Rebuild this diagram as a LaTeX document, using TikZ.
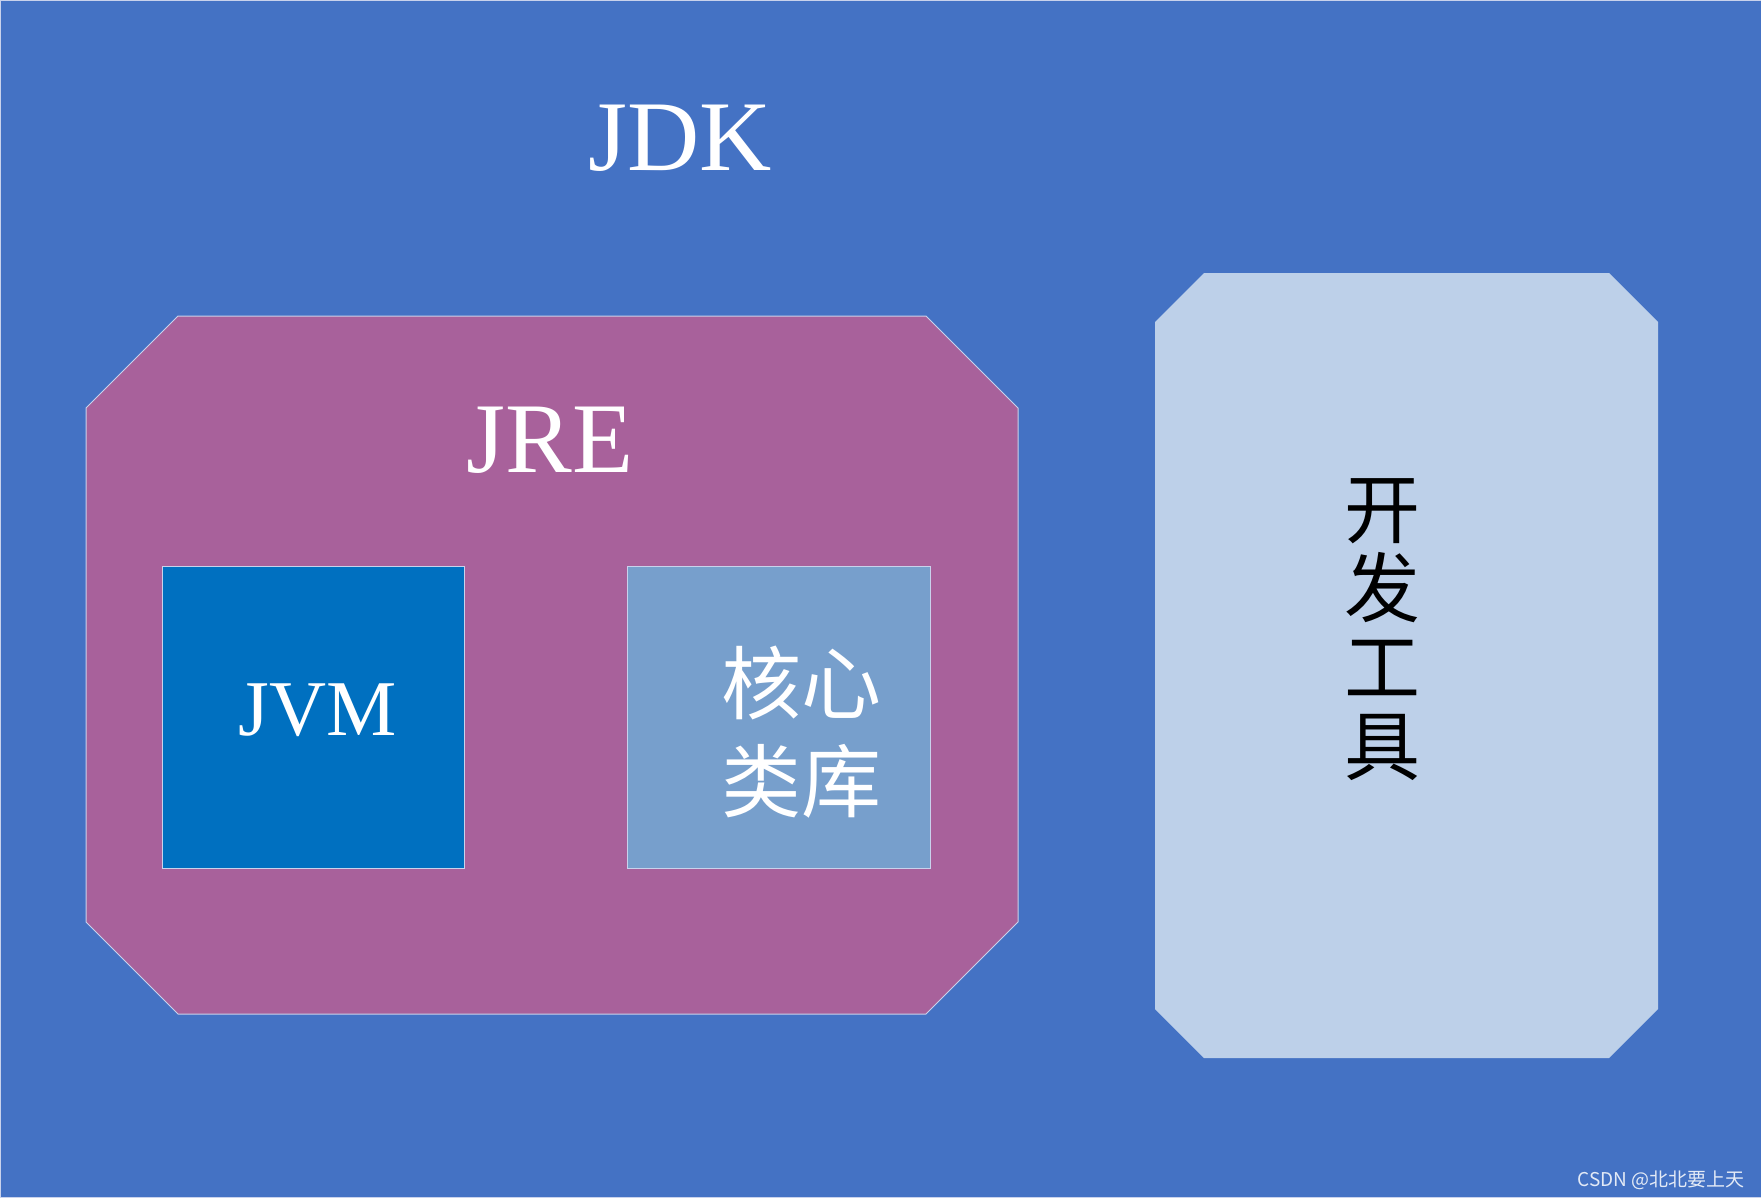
\documentclass[tikz,border=0pt]{standalone}
\usepackage{fontspec}
\setmainfont{Liberation Serif}
\newfontfamily\cjk{Noto Sans CJK SC}
\usetikzlibrary{positioning}
\definecolor{jdkblue}{HTML}{4472C4}
\definecolor{jrepurple}{HTML}{A8619B}
\definecolor{jvmblue}{HTML}{0070C0}
\definecolor{libblue}{HTML}{779FCC}
\definecolor{toolblue}{HTML}{BDD0E9}
\definecolor{edgegray}{HTML}{C9D2EC}

\begin{document}
\begin{tikzpicture}[
  x=1pt, y=-1pt,
  box/.style={line width=1pt, draw=edgegray},
  title/.style={font=\fontsize{100}{100}\selectfont, text=white, inner sep=0pt},
  cjklbl/.style={font=\cjk\fontsize{80}{98}\selectfont, align=center, inner sep=0pt},
  wmark/.style={font=\cjk\fontsize{19}{19}\selectfont, text=white!85!jdkblue, inner sep=0pt},
]
  \useasboundingbox (0,0) rectangle (1761,1197);
  % JDK
  \fill[jdkblue, box] (0,0) rectangle (1761,1197);
  \node[title, anchor=base] (jdk) at (680,170) {JDK};

  % JRE
  \fill[jrepurple, box] (178,316) -- (926,316) -- (1018,408) -- (1018,922)
    -- (926,1014) -- (178,1014) -- (86,922) -- (86,408) -- cycle;
  \node[title, font=\fontsize{100}{100}\selectfont, anchor=base] (jre) at (550,472) {JRE};

  \fill[jvmblue, box] (162,566) rectangle (464,868);
  \node[title, font=\fontsize{79}{79}\selectfont, anchor=base] (jvm) at (318,735) {JVM};

  \fill[libblue, box] (627,566) rectangle (930,868);
  \node[cjklbl, text=white] (corelib) at (801,732) {核心\\类库};

  % tools
  \fill[toolblue] (1204,273) -- (1609,273) -- (1658,322) -- (1658,1009)
    -- (1609,1058) -- (1204,1058) -- (1155,1009) -- (1155,322) -- cycle;
  \node[cjklbl, font=\cjk\fontsize{76}{79}\selectfont, text=black] (devtools) at (1382,630) {开\\发\\工\\具};

  \node[wmark, anchor=base east] (watermark) at (1745,1186) {CSDN @北北要上天};
\end{tikzpicture}
\end{document}
